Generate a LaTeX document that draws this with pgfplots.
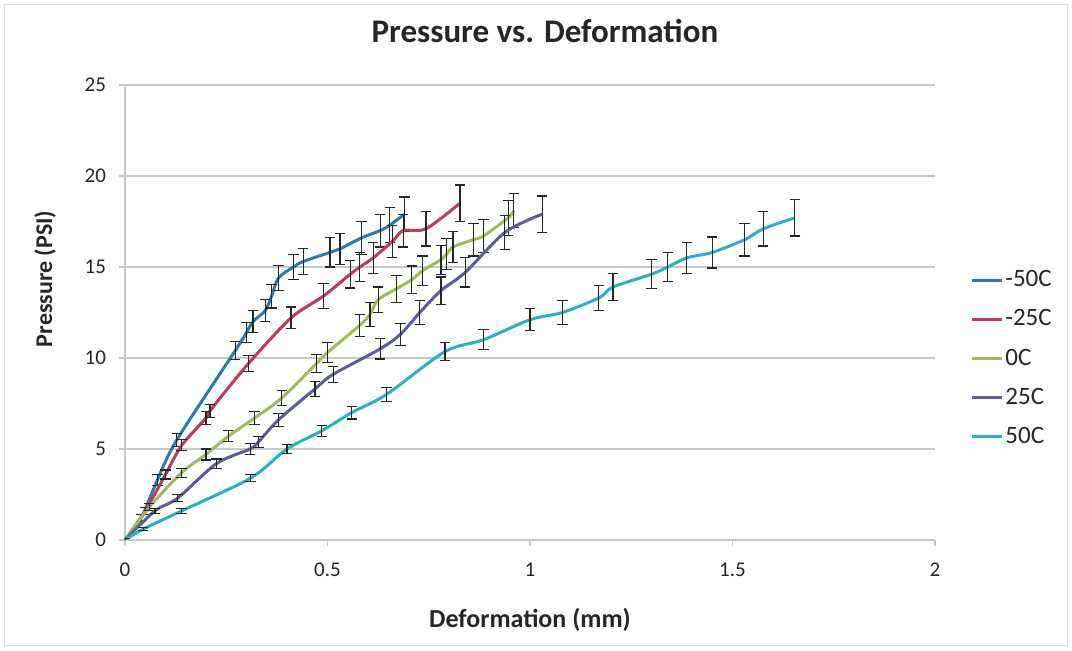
\documentclass[border=0pt]{standalone}
\usepackage{fontspec}
\setmainfont{Carlito}
\usepackage{pgfplots}
\pgfplotsset{compat=1.18}
\usepackage{pgfplotstable}
\definecolor{cA}{HTML}{2A7AB2}
\definecolor{cB}{HTML}{C0385A}
\definecolor{cC}{HTML}{9DBB59}
\definecolor{cD}{HTML}{5C5C9E}
\definecolor{cE}{HTML}{27B1C8}
\definecolor{gridc}{HTML}{C8C8C8}

\pgfplotstableread{
x y e
0 0 0.1
0.04 1.2 0.2
0.08 3.3 0.3
0.128 5.5 0.35
0.272 10.4 0.5
0.30 11.4 0.55
0.316 12.0 0.6
0.346 12.6 0.6
0.362 13.4 0.65
0.379 14.4 0.7
0.416 15.0 0.7
0.44 15.3 0.7
0.506 15.8 0.8
0.531 16.0 0.85
0.584 16.6 0.9
0.63 17.0 0.9
0.654 17.3 0.95
0.69 17.9 0.95
}\tA
\pgfplotstableread{
x y e
0 0 0.1
0.05 1.6 0.2
0.1 3.6 0.25
0.14 5.2 0.3
0.2 6.7 0.35
0.21 7.1 0.35
0.305 9.7 0.45
0.41 12.2 0.6
0.49 13.4 0.7
0.556 14.6 0.75
0.58 15.0 0.8
0.613 15.5 0.85
0.66 16.4 0.9
0.687 17.0 0.9
0.743 17.1 0.95
0.827 18.5 1.0
}\tB
\pgfplotstableread{
x y e
0 0 0.1
0.06 1.8 0.2
0.14 3.7 0.25
0.2 4.7 0.3
0.255 5.7 0.3
0.32 6.7 0.35
0.387 7.8 0.4
0.473 9.7 0.5
0.50 10.3 0.55
0.58 11.8 0.6
0.605 12.4 0.65
0.625 13.2 0.7
0.67 13.8 0.75
0.708 14.3 0.75
0.735 14.8 0.8
0.78 15.4 0.8
0.794 15.7 0.85
0.81 16.1 0.85
0.86 16.5 0.9
0.885 16.7 0.9
0.946 17.7 0.95
0.96 18.1 0.95
}\tC
\pgfplotstableread{
x y e
0 0 0.1
0.074 1.6 0.15
0.13 2.3 0.2
0.226 4.2 0.25
0.309 5.0 0.3
0.33 5.4 0.3
0.379 6.6 0.35
0.469 8.3 0.4
0.514 9.1 0.45
0.63 10.5 0.55
0.68 11.3 0.6
0.728 12.5 0.65
0.78 13.7 0.75
0.84 14.7 0.8
0.938 16.9 0.95
1.03 17.9 1.0
}\tD
\pgfplotstableread{
x y e
0 0 0.1
0.045 0.6 0.1
0.14 1.6 0.15
0.31 3.4 0.2
0.40 5.0 0.25
0.486 6.0 0.3
0.56 7.0 0.35
0.646 8.0 0.4
0.79 10.35 0.5
0.885 11.0 0.55
1.0 12.1 0.6
1.08 12.5 0.65
1.17 13.3 0.7
1.205 13.9 0.75
1.30 14.6 0.8
1.34 15.0 0.8
1.387 15.5 0.85
1.45 15.8 0.85
1.53 16.5 0.9
1.576 17.1 0.95
1.654 17.7 1.0
}\tE

\begin{document}
\begin{tikzpicture}
\path[use as bounding box] (-62.5pt,-55.5pt) rectangle (473.5pt,270pt);
\draw[gridc!60, line width=0.5pt] (-60pt,-53pt) rectangle (471pt,267.5pt);
\begin{axis}[
  at={(0,0)}, anchor=south west,
  scale only axis, width=405pt, height=227.5pt,
  xmin=0, xmax=2, ymin=0, ymax=25,
  xtick={0,0.5,1,1.5,2}, ytick={0,5,10,15,20,25},
  xticklabels={0,0.5,1,1.5,2},
  axis x line*=bottom, axis y line*=left,
  axis line style={gridc, line width=0.8pt, -},
  ymajorgrids, grid style={gridc, line width=0.6pt},
  tick style={gridc, line width=0.6pt},
  tick align=outside, major tick length=3pt,
  /pgf/number format/assume math mode=true,
  tick label style={font=\fontsize{10.5}{12}\selectfont, text=black!85},
  xticklabel style={yshift=-5pt},
  yticklabel style={xshift=-3pt},
  title={\textbf{Pressure vs. Deformation}},
  title style={at={(rel axis cs:0.5185,1)}, anchor=center, yshift=21pt, font=\fontsize{16.5}{19}\selectfont, text=black!85},
  xlabel={\textbf{Deformation (mm)}},
  xlabel style={at={(rel axis cs:0.5,0)}, anchor=center, yshift=-40pt, font=\fontsize{13}{15}\selectfont, text=black!85},
  ylabel={\textbf{Pressure (PSI)}},
  ylabel style={at={(rel axis cs:0,0.574)}, anchor=center, yshift=40pt, font=\fontsize{12}{14}\selectfont, text=black!85},
  legend style={at={(rel axis cs:1,0.5934)}, anchor=north west, xshift=17.5pt, draw=none, fill=none,
    font=\fontsize{12.5}{14}\selectfont, text=black!85, row sep=10pt, inner sep=0pt,
    nodes={inner xsep=1pt, inner ysep=0pt}},
  legend cell align=left,
  legend image code/.code={\draw[#1, line width=1.5pt] (0pt,0pt) -- (15pt,0pt);},
  every axis plot/.append style={line width=1.5pt, smooth, no markers},
  error bars/error bar style={black!85, line width=0.6pt, solid},
  error bars/error mark options={rotate=90, black!85, mark size=2.6pt, line width=0.6pt},
]
\addplot[cA, error bars/.cd, y dir=both, y explicit] table[x=x, y=y, y error=e] {\tA};
\addlegendentry{-50C}
\addplot[cB, error bars/.cd, y dir=both, y explicit] table[x=x, y=y, y error=e] {\tB};
\addlegendentry{-25C}
\addplot[cC, error bars/.cd, y dir=both, y explicit] table[x=x, y=y, y error=e] {\tC};
\addlegendentry{0C}
\addplot[cD, error bars/.cd, y dir=both, y explicit] table[x=x, y=y, y error=e] {\tD};
\addlegendentry{25C}
\addplot[cE, error bars/.cd, y dir=both, y explicit] table[x=x, y=y, y error=e] {\tE};
\addlegendentry{50C}
\end{axis}
\end{tikzpicture}
\end{document}
